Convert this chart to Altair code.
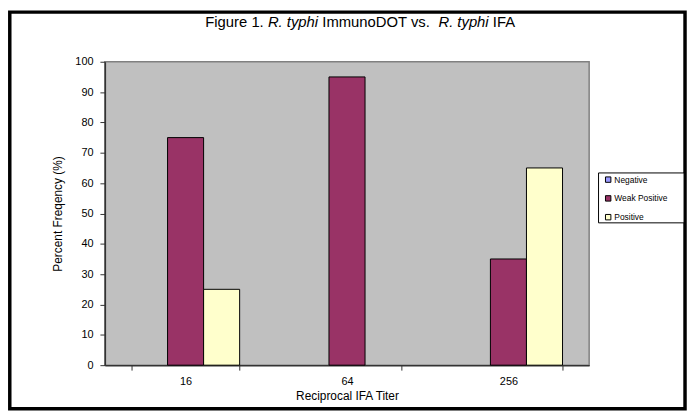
import altair as alt
import pandas as pd

# ---- data ----
titers = ["16", "64", "256"]
series = ["Negative", "Weak Positive", "Positive"]
negative = [0, 0, 0]
weak_positive = [75, 95, 35]
positive = [25, 0, 65]
colors = ["#9999FF", "#993366", "#FFFFCC"]
y_ticks = [0, 10, 20, 30, 40, 50, 60, 70, 80, 90, 100]

rows = []
for i, t in enumerate(titers):
    for s, vals in zip(series, [negative, weak_positive, positive]):
        rows.append({"titer": t, "series": s, "value": vals[i]})
df = pd.DataFrame(rows)

FONT = "Liberation Sans"
W, H = 490, 307
PAD = {"left": 98, "top": 52, "right": 99, "bottom": 46}

base = alt.Chart(df)

bars = base.mark_bar(stroke="black", strokeWidth=1).encode(
    x=alt.X("titer:N", sort=titers,
            scale=alt.Scale(domain=titers, paddingInner=0.33, paddingOuter=0.165),
            axis=alt.Axis(title="Reciprocal IFA Titer", labelAngle=0,
                          tickBand="extent", tickSize=5, labelPadding=6,
                          titlePadding=4)),
    xOffset=alt.XOffset("series:N", sort=series,
                        scale=alt.Scale(domain=series, paddingInner=0, paddingOuter=0)),
    y=alt.Y("value:Q", scale=alt.Scale(domain=[0, 100], nice=False),
            axis=alt.Axis(title="Percent Freqency (%)", values=y_ticks,
                          grid=False, tickSize=5, labelPadding=7,
                          titlePadding=11)),
    color=alt.Color("series:N", sort=series,
                    scale=alt.Scale(domain=series, range=colors),
                    legend=alt.Legend(orient="none", legendX=505, legendY=115,
                                      title=None, symbolType="square",
                                      symbolSize=30, symbolStrokeColor="black",
                                      symbolStrokeWidth=1, labelFontSize=8.5,
                                      labelFont=FONT, labelOffset=2,
                                      rowPadding=9, padding=0)),
).transform_filter(alt.datum.value > 0)

one = alt.Data(values=[{"k": 1}])

# outer frame
frame = alt.Chart(one).mark_rect(fill=None, stroke="black", strokeWidth=3.5).encode(
    x=alt.value(-96.2), x2=alt.value(587), y=alt.value(-50.2), y2=alt.value(351)
)
# legend box
legend_box = alt.Chart(one).mark_rect(fill="white", stroke="black", strokeWidth=1).encode(
    x=alt.value(499.5), x2=alt.value(586), y=alt.value(112.5), y2=alt.value(163)
)

# title with mixed italics
AW = {"F": 611, "i": 222, "g": 556, "u": 556, "r": 333, "e": 556, "1": 556,
      ".": 278, " ": 278, "R": 722, "t": 278, "y": 500, "p": 556, "h": 556,
      "I": 278, "m": 833, "n": 556, "o": 556, "D": 722, "O": 778, "T": 611,
      "v": 500, "s": 500, "A": 667}
TS = 15
parts = [("Figure 1. ", "normal"), ("R. typhi ", "italic"),
         ("ImmunoDOT vs.  ", "normal"), ("R. typhi ", "italic"), ("IFA", "normal")]
title_layers = []
x0 = 101.6
for txt, style in parts:
    title_layers.append(
        alt.Chart(one).mark_text(text=txt.strip(), font=FONT, fontSize=TS,
                                 fontStyle=style, align="left",
                                 baseline="middle", color="black").encode(
            x=alt.value(x0), y=alt.value(-40))
    )
    x0 += sum(AW.get(c, 556) for c in txt) * TS / 1000.0

chart = alt.layer(frame, legend_box, bars, *title_layers).properties(
    width=W, height=H,
    autosize=alt.AutoSizeParams(type="none"),
    padding=PAD,
    background="white",
).configure_view(
    fill="#C0C0C0", stroke="#808080", strokeWidth=1.5
).configure_axis(
    labelFont=FONT, titleFont=FONT, labelFontSize=11, titleFontSize=12,
    titleFontWeight="normal", labelColor="black", titleColor="black",
    domainColor="#333333", tickColor="#333333", domainWidth=1.5
)

chart.save("out.html", embed_options={"renderer": "svg", "actions": False})
